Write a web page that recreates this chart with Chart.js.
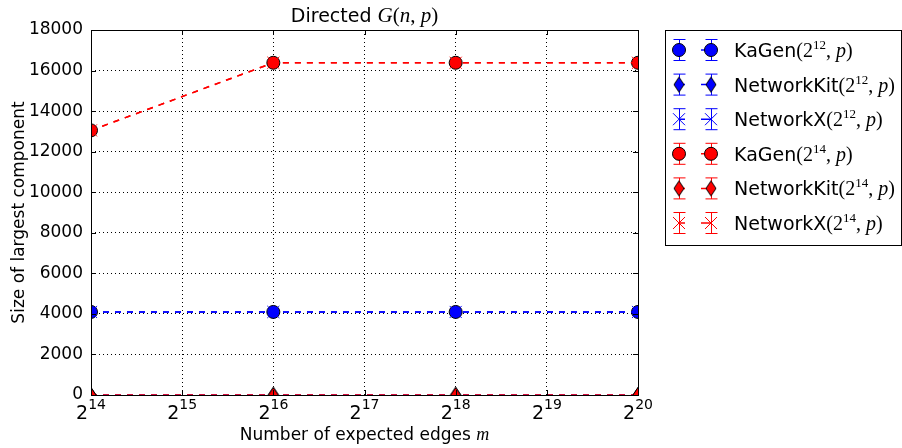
<!DOCTYPE html>
<html>
<head>
<meta charset="utf-8">
<script src="https://cdn.jsdelivr.net/npm/chart.js@4.4.1/dist/chart.umd.min.js"></script>
<style>
    html, body { margin: 0; padding: 0; background: #fff; }
    #wrap { width: 902px; height: 448px; }
</style>
</head>
<body>
<div id="wrap"><canvas id="chart" width="902" height="448"></canvas></div>
<script>
// x values are powers of two: m = 2^exponent
const exponents = [14, 16, 18, 20];
const xTickExponents = [14, 15, 16, 17, 18, 19, 20];
const yTicks = [0, 2000, 4000, 6000, 8000, 10000, 12000, 14000, 16000, 18000];

const kagen12 = [4096, 4096, 4096, 4096];
const networkit12 = [0, 0, 0, 0];
const networkx12 = [4096, 4096, 4096, 4096];
const kagen14 = [13050, 16384, 16384, 16384];
const networkit14 = [0, 0, 0, 0];
const networkx14 = [13050, 16384, 16384, 16384];

const BLUE = '#0000ff';
const RED = '#ff0000';
const SANS = '"DejaVu Sans", sans-serif';
const SERIF = '"Liberation Serif", serif';

function thinDiamond(fill) {
    const c = document.createElement('canvas');
    c.width = 14; c.height = 18;
    const g = c.getContext('2d');
    g.beginPath();
    g.moveTo(7, 1.5); g.lineTo(12, 9); g.lineTo(7, 16.5); g.lineTo(2, 9); g.closePath();
    g.fillStyle = fill; g.fill();
    g.strokeStyle = '#000'; g.lineWidth = 1; g.stroke();
    return c;
}

const series = [
    { name: 'KaGen', n: '12', data: kagen12, color: BLUE, marker: 'circle' },
    { name: 'NetworkKit', n: '12', data: networkit12, color: BLUE, marker: 'diamond' },
    { name: 'NetworkX', n: '12', data: networkx12, color: BLUE, marker: 'x' },
    { name: 'KaGen', n: '14', data: kagen14, color: RED, marker: 'circle' },
    { name: 'NetworkKit', n: '14', data: networkit14, color: RED, marker: 'diamond' },
    { name: 'NetworkX', n: '14', data: networkx14, color: RED, marker: 'x' }
];

const datasets = series.map((s, i) => {
    const ds = {
        label: s.name + '(2^' + s.n + ', p)',
        data: exponents.map((e, j) => ({ x: e, y: s.data[j] })),
        borderColor: s.color,
        borderWidth: 1.5,
        borderDash: [6, 6],
        pointBackgroundColor: s.color,
        pointBorderColor: '#000',
        pointBorderWidth: 1,
        pointRadius: 6.5,
        order: series.length - i
    };
    if (s.marker === 'diamond') {
        ds.pointStyle = thinDiamond(s.color);
    } else if (s.marker === 'x') {
        ds.pointStyle = 'crossRot';
        ds.pointBorderColor = s.color;
        ds.pointRadius = 8.5;
    } else {
        ds.pointStyle = 'circle';
    }
    return ds;
});

function drawMarker(ctx, s, x, y) {
    ctx.save();
    if (s.marker === 'circle') {
        ctx.beginPath();
        ctx.arc(x, y, 6.5, 0, Math.PI * 2);
        ctx.fillStyle = s.color; ctx.fill();
        ctx.strokeStyle = '#000'; ctx.lineWidth = 1; ctx.stroke();
    } else if (s.marker === 'diamond') {
        ctx.drawImage(thinDiamond(s.color), x - 7, y - 9);
    } else {
        ctx.strokeStyle = s.color; ctx.lineWidth = 1;
        ctx.beginPath();
        ctx.moveTo(x - 6, y - 6); ctx.lineTo(x + 6, y + 6);
        ctx.moveTo(x + 6, y - 6); ctx.lineTo(x - 6, y + 6);
        ctx.stroke();
    }
    ctx.restore();
}

// draws runs of [text, font, dy] left to right
function drawRuns(ctx, runs, x, y) {
    ctx.textBaseline = 'alphabetic';
    ctx.textAlign = 'left';
    for (const r of runs) {
        ctx.font = r[1];
        ctx.fillText(r[0], x, y + (r[2] || 0));
        x += ctx.measureText(r[0]).width;
    }
    return x;
}

function runsWidth(ctx, runs) {
    let w = 0;
    for (const r of runs) { ctx.font = r[1]; w += ctx.measureText(r[0]).width; }
    return w;
}

const extras = {
    id: 'extras',
    afterDraw(chart) {
        const ctx = chart.ctx;
        const a = chart.chartArea;
        const xs = chart.scales.x;
        ctx.save();
        ctx.fillStyle = '#000';

        // plot frame
        ctx.strokeStyle = '#000';
        ctx.lineWidth = 1;
        ctx.strokeRect(Math.round(a.left) + 0.5, Math.round(a.top) + 0.5,
            Math.round(a.right - a.left), Math.round(a.bottom - a.top));

        // inward tick marks
        ctx.beginPath();
        for (const e of xTickExponents) {
            const px = Math.round(xs.getPixelForValue(e)) + 0.5;
            ctx.moveTo(px, a.bottom); ctx.lineTo(px, a.bottom - 5);
            ctx.moveTo(px, a.top); ctx.lineTo(px, a.top + 5);
        }
        for (const v of yTicks) {
            const py = Math.round(chart.scales.y.getPixelForValue(v)) + 0.5;
            ctx.moveTo(a.left, py); ctx.lineTo(a.left + 5, py);
            ctx.moveTo(a.right, py); ctx.lineTo(a.right - 5, py);
        }
        ctx.stroke();

        // x tick labels 2^k
        for (const e of xTickExponents) {
            const px = xs.getPixelForValue(e);
            const runs = [['2', '19px ' + SANS], [String(e), '14px ' + SANS, -10]];
            drawRuns(ctx, runs, px - runsWidth(ctx, runs) / 2, a.bottom + 24);
        }

        // x axis title
        const xt = [['Number of expected edges ', '17px ' + SANS], ['m', 'italic 18px ' + SERIF]];
        const xc = (a.left + a.right) / 2;
        drawRuns(ctx, xt, xc - runsWidth(ctx, xt) / 2, 440);

        // title
        const tt = [['Directed ', '19px ' + SANS], ['G', 'italic 21px ' + SERIF], ['(', '21px ' + SERIF],
            ['n', 'italic 21px ' + SERIF], [', ', '21px ' + SERIF], ['p', 'italic 21px ' + SERIF], [')', '21px ' + SERIF]];
        drawRuns(ctx, tt, xc - runsWidth(ctx, tt) / 2, 22);

        // legend
        const lx = 665.5, ly = 30.5, lw = 236, lh = 215;
        ctx.fillStyle = '#fff';
        ctx.fillRect(lx, ly, lw, lh);
        ctx.strokeStyle = '#000';
        ctx.strokeRect(lx, ly, lw, lh);
        series.forEach((s, i) => {
            const y = 50 + i * 34.6;
            const m1 = 679, m2 = 711;
            ctx.save();
            ctx.strokeStyle = s.color;
            ctx.lineWidth = 1.5;
            ctx.beginPath();
            ctx.moveTo(m1, y); ctx.lineTo(m1 + 6, y);
            ctx.moveTo(m2 - 10, y); ctx.lineTo(m2, y);
            ctx.stroke();
            ctx.lineWidth = 1;
            ctx.beginPath();
            for (const mx of [m1, m2]) {
                ctx.moveTo(mx + 0.5, y - 10.5); ctx.lineTo(mx + 0.5, y + 10.5);
                ctx.moveTo(mx - 5.5, y - 10.5); ctx.lineTo(mx + 6.5, y - 10.5);
                ctx.moveTo(mx - 5.5, y + 10.5); ctx.lineTo(mx + 6.5, y + 10.5);
            }
            ctx.stroke();
            ctx.restore();
            drawMarker(ctx, s, m1, y);
            drawMarker(ctx, s, m2, y);
            ctx.fillStyle = '#000';
            drawRuns(ctx, [[s.name, '19px ' + SANS], ['(2', '20px ' + SERIF], [s.n, '13px ' + SERIF, -8],
                [', ', '20px ' + SERIF], ['p', 'italic 20px ' + SERIF], [')', '20px ' + SERIF]], 734, y + 7);
        });
        ctx.restore();
    }
};

new Chart(document.getElementById('chart'), {
    type: 'line',
    data: { datasets },
    options: {
        responsive: false,
        animation: false,
        layout: { padding: { left: 0, right: 264, top: 30, bottom: 0 } },
        scales: {
            x: {
                type: 'linear',
                min: 14,
                max: 20,
                afterBuildTicks: (scale) => { scale.ticks = xTickExponents.map(v => ({ value: v })); },
                afterFit: (scale) => { scale.height = 53; },
                ticks: { callback: () => '', padding: 0 },
                grid: { color: '#000', drawTicks: false, lineWidth: 1 },
                border: { display: false, dash: [1, 3] }
            },
            y: {
                min: 0,
                max: 18000,
                afterBuildTicks: (scale) => { scale.ticks = yTicks.map(v => ({ value: v })); },
                afterFit: (scale) => { scale.width = 91; },
                ticks: {
                    color: '#000',
                    font: { family: SANS, size: 17 },
                    padding: 8,
                    autoSkip: false,
                    callback: (v) => String(v)
                },
                grid: { color: '#000', drawTicks: false, lineWidth: 1 },
                border: { display: false, dash: [1, 3] },
                title: {
                    display: true,
                    text: 'Size of largest component',
                    color: '#000',
                    font: { family: SANS, size: 17 },
                    padding: { top: 9, bottom: 4 }
                }
            }
        },
        plugins: {
            legend: { display: false },
            tooltip: { enabled: false }
        }
    },
    plugins: [extras]
});
</script>
</body>
</html>
